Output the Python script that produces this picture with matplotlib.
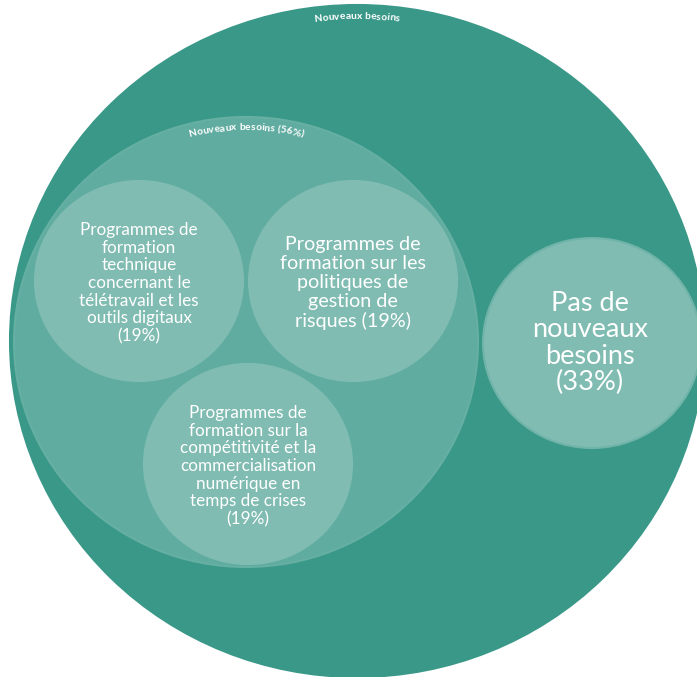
import numpy as np
import matplotlib.pyplot as plt
from matplotlib.patches import Ellipse
from matplotlib.font_manager import FontProperties

# data
outer_label = "Nouveaux besoins"
group_label = "Nouveaux besoins"
group_value = 56
topic_names = [
    "Programmes de\nformation\ntechnique\nconcernant le\ntélétravail et les\noutils digitaux",
    "Programmes de\nformation sur les\npolitiques de\ngestion de\nrisques",
    "Programmes de\nformation sur la\ncompétitivité et la\ncommercialisation\nnumérique en\ntemps de crises",
]
topic_values = [19, 19, 19]
topic_sep = ["\n", " ", "\n"]
other_name = "Pas de\nnouveaux\nbesoins"
other_value = 33

# layout (pixels, y down)
W, H = 697, 677
outer_c, outer_r = (357, 341), (347, 336)
group_c, group_r = (246, 342), (232, 225)
topic_c = [(139, 281), (353, 281), (248, 464)]
topic_r = (104, 100)
topic_fs = [12.3, 14.2, 12.3]
other_c, other_r = (592, 343), (109, 105)

dark = "#3a9889"
mid = "#60aca0"
light = "#80bcb2"
font = "Lato"


def ellipse(ax, c, r, color, edge=None):
    ax.add_patch(Ellipse(c, 2 * r[0], 2 * r[1], facecolor=color,
                         edgecolor=edge or color, lw=1.5))


def arc_text(ax, renderer, s, c, r, inset, size):
    # write s along the top of an ellipse, centred on the apex
    fp = FontProperties(family=font, weight="bold", size=size)

    def width(t):
        if not t:
            return 0.0
        w, _, _ = renderer.get_text_width_height_descent(t, fp, ismath=False)
        return w

    total = width(s)
    rx, ry = r[0] - inset, r[1] - inset
    for i, ch in enumerate(s):
        off = width(s[:i]) + width(ch) / 2 - total / 2
        th = np.pi / 2 - off / ((rx + ry) / 2)
        x = c[0] + rx * np.cos(th)
        y = c[1] - ry * np.sin(th)
        ax.text(x, y, ch, fontproperties=fp, color="white", ha="center",
                va="baseline", rotation=np.degrees(th - np.pi / 2),
                rotation_mode="anchor")


fig = plt.figure(figsize=(W / 100, H / 100), dpi=100)
ax = fig.add_axes([0, 0, 1, 1])
ax.set_xlim(0, W)
ax.set_ylim(H, 0)
ax.axis("off")

ellipse(ax, outer_c, outer_r, dark)
ellipse(ax, group_c, group_r, mid, "#66afa3")
for c, name, v, sep, fs in zip(topic_c, topic_names, topic_values, topic_sep, topic_fs):
    ellipse(ax, c, topic_r, light)
    ax.text(c[0], c[1] + 2, f"{name}{sep}({v}%)", ha="center", va="center",
            color="white", fontsize=fs, family=font, linespacing=1.13)
ellipse(ax, other_c, other_r, light, "#70b4a9")
ax.text(other_c[0] - 2, other_c[1], f"{other_name}\n({other_value}%)", ha="center",
        va="center", color="white", fontsize=19.5, family=font, linespacing=1.08)

fig.canvas.draw()
renderer = fig.canvas.get_renderer()
arc_text(ax, renderer, outer_label, outer_c, outer_r, 14, 7.4)
arc_text(ax, renderer, f"{group_label} ({group_value}%)", group_c, group_r, 13, 7.4)

fig.savefig("out.png", dpi=100, facecolor="white")
